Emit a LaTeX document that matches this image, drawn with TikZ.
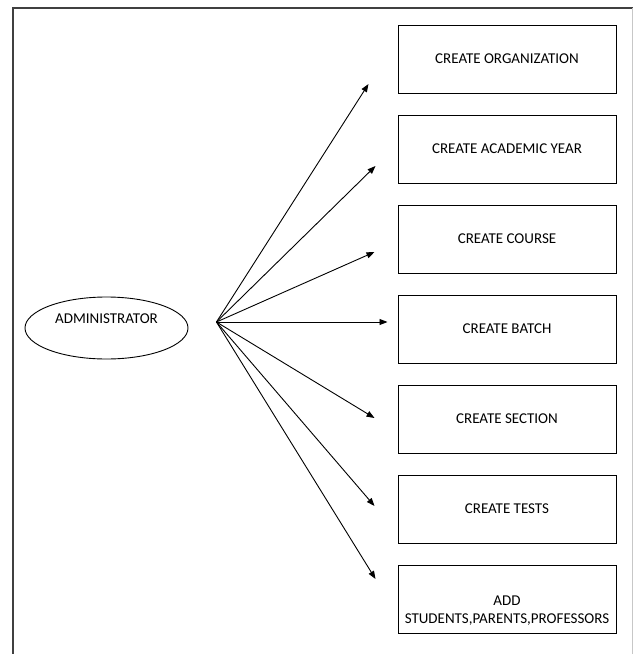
\documentclass[tikz,border=0pt]{standalone}
\usepackage{fontspec}
\setmainfont{Carlito}
\usetikzlibrary{positioning, shapes.geometric, calc, arrows.meta}
\tikzset{
        task/.style={
            rectangle, draw, line width=1pt, minimum width=218pt, minimum height=68pt,
            font=\fontsize{15}{18}\selectfont, align=center
        },
        actor/.style={
            ellipse, draw, line width=0.9pt, minimum width=163pt, minimum height=62pt
        },
        link/.style={line width=0.9pt, -{Triangle[length=8pt, width=6pt]}},
}

\begin{document}
\begin{tikzpicture}[x=1pt, y=-1pt, node distance=21pt]
        \useasboundingbox (0,0) rectangle (633,654);

        % DRAW FRAME
        \draw [line width=1.2pt, black!75] (13,654) -- (13,8) -- (633,8);
        \draw [line width=1pt, black!22]   (632,8) -- (632,654);

        % DRAW NODES (boxes stacked below each other)
        \node[actor, label={[font=\fontsize{15}{18}\selectfont, yshift=9pt]center:ADMINISTRATOR}]
                                        (ADMIN)   at (106.5,328)    {};
        \node[task]                     (ORG)     at (507,59)       {CREATE ORGANIZATION};
        \node[task, below=of ORG]       (YEAR)                      {CREATE ACADEMIC YEAR};
        \node[task, below=of YEAR]      (COURSE)                    {CREATE COURSE};
        \node[task, below=of COURSE]    (BATCH)                     {CREATE BATCH};
        \node[task, below=of BATCH]     (SECTION)                   {CREATE SECTION};
        \node[task, below=of SECTION]   (TESTS)                     {CREATE TESTS};
        \node[task, below=of TESTS,
              label={[align=center, font=\fontsize{15}{18}\selectfont, yshift=-12pt]center:{ADD\\STUDENTS,PARENTS,PROFESSORS}}]
                                        (ADD)                       {};

        % CONNECT ADMINISTRATOR TO TASKS
        \coordinate (HUB) at ($(ADMIN.east)+(28,-6)$);
        \foreach \dest/\dx/\dy in {ORG/-29/25, YEAR/-22/17, COURSE/-23/13, BATCH/-10/-7,
                                   SECTION/-23/-1, TESTS/-23/-3, ADD/-22/-20} {
            \coordinate (\dest-tip) at ($(\dest.west)+(\dx,\dy)$);
            \draw [link] (HUB) -- (\dest-tip);
        }

\end{tikzpicture}
\end{document}
